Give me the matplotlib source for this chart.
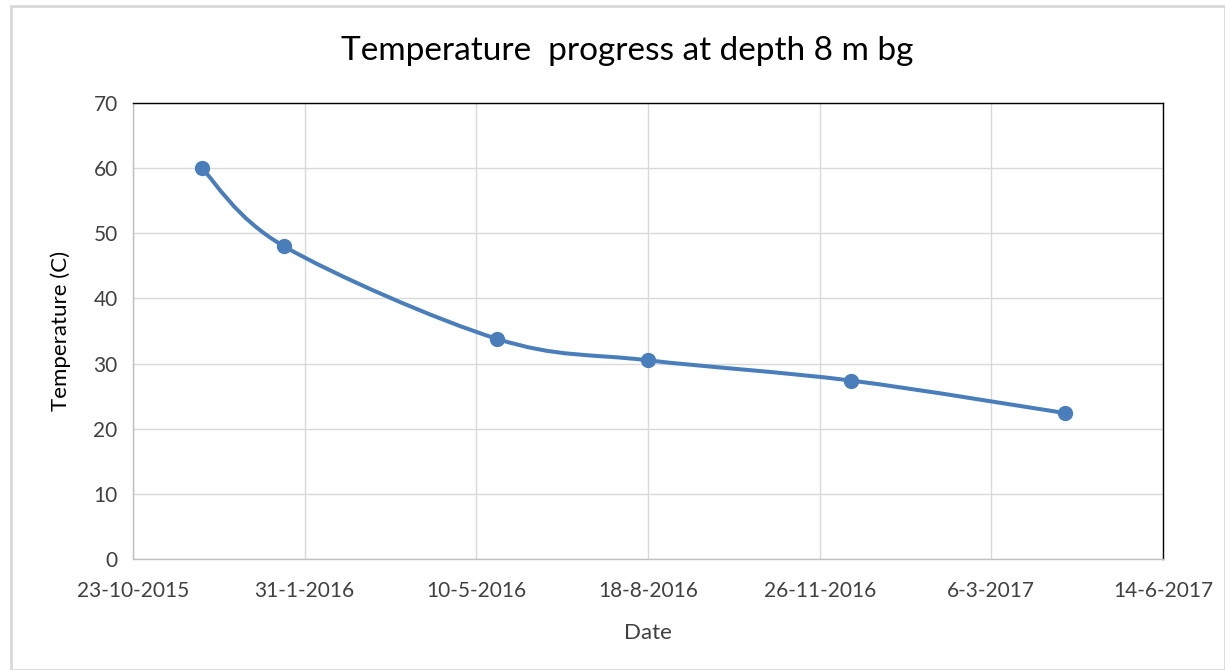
import matplotlib
matplotlib.use("Agg")
import matplotlib.pyplot as plt
import matplotlib.dates as mdates
from matplotlib.path import Path
from matplotlib.patches import PathPatch, Rectangle
import numpy as np
import datetime as dt

# Data
dates = ["2015-12-02", "2016-01-19", "2016-05-22", "2016-08-18", "2016-12-14", "2017-04-18"]
temps = [60.0, 48.0, 33.8, 30.5, 27.4, 22.4]
xtick_dates = ["2015-10-23", "2016-01-31", "2016-05-10", "2016-08-18", "2016-11-26", "2017-03-06", "2017-06-14"]
xtick_labels = ["23-10-2015", "31-1-2016", "10-5-2016", "18-8-2016", "26-11-2016", "6-3-2017", "14-6-2017"]
yticks = [0, 10, 20, 30, 40, 50, 60, 70]

plt.rcParams['font.family'] = ['Lato', 'DejaVu Sans']
color = '#4A7EBB'

fig = plt.figure(figsize=(12.25, 6.7), dpi=100)
ax = fig.add_axes([133/1225, 1-559/670, (1163-133)/1225, (559-103)/670])

xd = mdates.date2num([dt.datetime.fromisoformat(d) for d in dates])
yd = np.array(temps)
pts = np.column_stack([xd, yd])

# Smoothed line (Catmull-Rom style Bezier, like spreadsheet smoothing)
verts = [tuple(pts[0])]
codes = [Path.MOVETO]
n = len(pts)
for i in range(n - 1):
    p0 = pts[i - 1] if i > 0 else pts[i]
    p1 = pts[i]
    p2 = pts[i + 1]
    p3 = pts[i + 2] if i + 2 < n else pts[i + 1]
    c1 = p1 + (p2 - p0) / 6
    c2 = p2 - (p3 - p1) / 6
    verts += [tuple(c1), tuple(c2), tuple(p2)]
    codes += [Path.CURVE4] * 3
ax.add_patch(PathPatch(Path(verts, codes), facecolor='none', edgecolor=color,
                       lw=2.9, capstyle='round', joinstyle='round', zorder=3))
ax.plot(xd, yd, linestyle='none', marker='o', ms=10, color=color, zorder=4)

xt = mdates.date2num([dt.datetime.fromisoformat(d) for d in xtick_dates])
ax.set_xlim(xt[0], xt[-1])
ax.set_ylim(0, 70)
ax.set_xticks(xt)
ax.set_xticklabels(xtick_labels)
ax.set_yticks(yticks)
ax.grid(True, color='#D9D9D9', lw=1.0)
ax.set_axisbelow(True)
ax.tick_params(length=0, labelsize=15, colors='#404040', pad=11)
ax.tick_params(axis='x', pad=16)
for s in ['left', 'bottom']:
    ax.spines[s].set_color('#BFBFBF')
for s in ['top', 'right']:
    ax.spines[s].set_color('#000000')
for s in ax.spines.values():
    s.set_linewidth(1.0)

ax.set_xlabel('Date', fontsize=16, color='#404040', labelpad=16)
ax.set_ylabel('Temperature (C)', fontsize=16, color='#000000', labelpad=16)
fig.text(627/1225, 1-51/670, 'Temperature  progress at depth 8 m bg', fontsize=24,
         ha='center', va='center', color='#000000')

fig.add_artist(Rectangle((11/1225, 0), 1 - 11/1225, 1 - 6/670, transform=fig.transFigure,
                         fill=False, edgecolor='#D9D9D9', lw=2))

fig.savefig('out.png', dpi=100, facecolor='white')
